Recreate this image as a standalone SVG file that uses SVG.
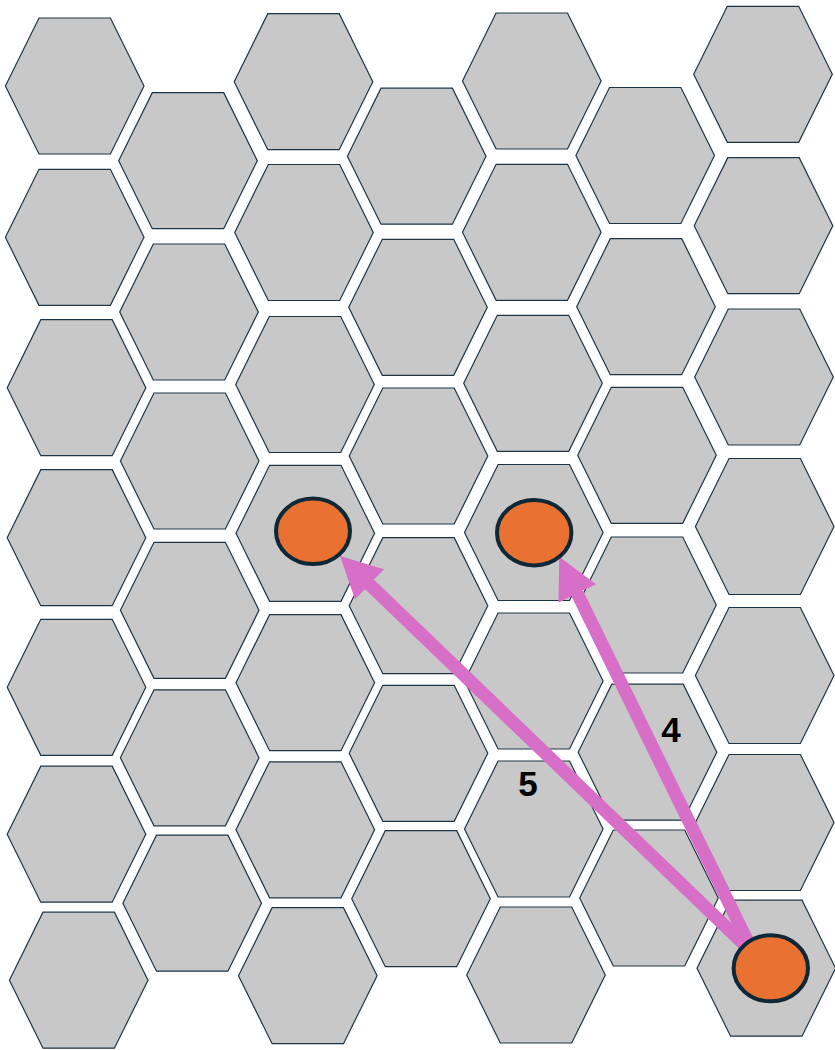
<svg xmlns="http://www.w3.org/2000/svg" xmlns:xlink="http://www.w3.org/1999/xlink" width="835" height="1050" viewBox="0 0 835 1050">
<style>
.hex{fill:#c8c8c8;stroke:#1e3444;stroke-width:1.2;stroke-linejoin:miter}
.dot{fill:#e97132;stroke:#0e2837;stroke-width:4}
.link{fill:none;stroke:#d76fc9;stroke-width:13;stroke-linecap:butt}
.lbl{font-family:"Liberation Sans",Arial,sans-serif;font-weight:bold;font-size:35px;fill:#000;text-anchor:middle}
</style>
<defs>
<polygon id="h" class="hex" points="-69.3,0 -35.7,-68 35.7,-68 69.3,0 35.7,68 -35.7,68"/>
<marker id="ah" markerUnits="userSpaceOnUse" viewBox="0 0 41 42" refX="5" refY="21" markerWidth="41" markerHeight="42" orient="auto">
<path d="M0,0 L41,21 L0,42 Z" fill="#d76fc9"/>
</marker>
</defs>
<rect width="835" height="1050" fill="#ffffff"/>
<g id="grid">
<g id="hex-0-0"><use xlink:href="#h" x="74.7" y="86"/></g>
<g id="hex-0-1"><use xlink:href="#h" x="74.7" y="237.3"/></g>
<g id="hex-0-2"><use xlink:href="#h" x="76.5" y="387.7"/></g>
<g id="hex-0-3"><use xlink:href="#h" x="76.5" y="537.7"/></g>
<g id="hex-0-4"><use xlink:href="#h" x="76.5" y="687.3"/></g>
<g id="hex-0-5"><use xlink:href="#h" x="76.5" y="834.2"/></g>
<g id="hex-0-6"><use xlink:href="#h" x="78.7" y="980.2"/></g>
<g id="hex-1-0"><use xlink:href="#h" x="188" y="160.7"/></g>
<g id="hex-1-1"><use xlink:href="#h" x="189" y="312"/></g>
<g id="hex-1-2"><use xlink:href="#h" x="189.7" y="461"/></g>
<g id="hex-1-3"><use xlink:href="#h" x="189.7" y="610.3"/></g>
<g id="hex-1-4"><use xlink:href="#h" x="189.7" y="757.8"/></g>
<g id="hex-1-5"><use xlink:href="#h" x="192.2" y="903.2"/></g>
<g id="hex-2-0"><use xlink:href="#h" x="303.5" y="81.7"/></g>
<g id="hex-2-1"><use xlink:href="#h" x="304" y="232.5"/></g>
<g id="hex-2-2"><use xlink:href="#h" x="305" y="384.5"/></g>
<g id="hex-2-3"><use xlink:href="#h" x="305.3" y="533.3"/></g>
<g id="hex-2-4"><use xlink:href="#h" x="305.3" y="682.7"/></g>
<g id="hex-2-5"><use xlink:href="#h" x="305.3" y="829.8"/></g>
<g id="hex-2-6"><use xlink:href="#h" x="307.8" y="975.7"/></g>
<g id="hex-3-0"><use xlink:href="#h" x="416.7" y="156.2"/></g>
<g id="hex-3-1"><use xlink:href="#h" x="418" y="307.3"/></g>
<g id="hex-3-2"><use xlink:href="#h" x="418.5" y="456"/></g>
<g id="hex-3-3"><use xlink:href="#h" x="418.5" y="605.7"/></g>
<g id="hex-3-4"><use xlink:href="#h" x="418.5" y="753.3"/></g>
<g id="hex-3-5"><use xlink:href="#h" x="421" y="898.7"/></g>
<g id="hex-4-0"><use xlink:href="#h" x="531.8" y="81"/></g>
<g id="hex-4-1"><use xlink:href="#h" x="531.8" y="232.3"/></g>
<g id="hex-4-2"><use xlink:href="#h" x="533" y="383.3"/></g>
<g id="hex-4-3"><use xlink:href="#h" x="533.8" y="532.5"/></g>
<g id="hex-4-4"><use xlink:href="#h" x="533.8" y="681"/></g>
<g id="hex-4-5"><use xlink:href="#h" x="533.8" y="829"/></g>
<g id="hex-4-6"><use xlink:href="#h" x="536" y="975"/></g>
<g id="hex-5-0"><use xlink:href="#h" x="645.2" y="155.5"/></g>
<g id="hex-5-1"><use xlink:href="#h" x="646" y="306.7"/></g>
<g id="hex-5-2"><use xlink:href="#h" x="647" y="455.3"/></g>
<g id="hex-5-3"><use xlink:href="#h" x="647" y="605"/></g>
<g id="hex-5-4"><use xlink:href="#h" x="647.5" y="752.2"/></g>
<g id="hex-5-5"><use xlink:href="#h" x="649" y="898"/></g>
<g id="hex-6-0"><use xlink:href="#h" x="763" y="74.3"/></g>
<g id="hex-6-1"><use xlink:href="#h" x="763.5" y="225.7"/></g>
<g id="hex-6-2"><use xlink:href="#h" x="764" y="377"/></g>
<g id="hex-6-3"><use xlink:href="#h" x="764.7" y="526.5"/></g>
<g id="hex-6-4"><use xlink:href="#h" x="764.7" y="675.5"/></g>
<g id="hex-6-5"><use xlink:href="#h" x="764.7" y="822.5"/></g>
<g id="hex-6-6"><use xlink:href="#h" x="766.3" y="968.2"/></g>
</g>
<g id="connectors">
<path class="link" d="M750,950 L366,581" marker-end="url(#ah)"/>
<path class="link" d="M749,944 L575.1,589" marker-end="url(#ah)"/>
<text class="lbl" x="528" y="796">5</text>
<text class="lbl" x="671" y="741.5">4</text>
</g>
<g id="unit-a"><ellipse class="dot" cx="313" cy="531.3" rx="37" ry="32.7"/></g>
<g id="unit-b"><ellipse class="dot" cx="534.2" cy="532.7" rx="37.2" ry="32.7"/></g>
<g id="unit-c"><ellipse class="dot" cx="770.8" cy="968.3" rx="37.2" ry="33"/></g>
</svg>
